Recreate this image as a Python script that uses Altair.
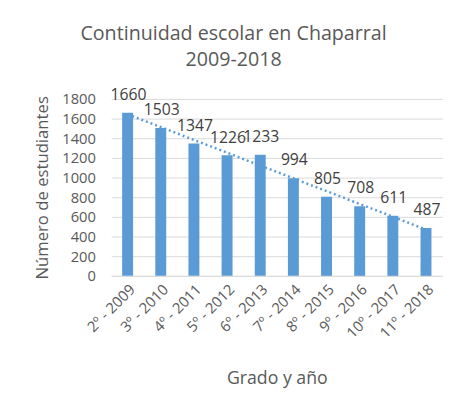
import altair as alt
import pandas as pd

categories = ["2º - 2009", "3º - 2010", "4º - 2011", "5º - 2012", "6º - 2013",
              "7º - 2014", "8º - 2015", "9º - 2016", "10º - 2017", "11º - 2018"]
values = [1660, 1503, 1347, 1226, 1233, 994, 805, 708, 611, 487]
index = list(range(1, 11))
y_ticks = [0, 200, 400, 600, 800, 1000, 1200, 1400, 1600, 1800]

df = pd.DataFrame({"cat": categories, "val": values, "idx": index})

FONT = "Open Sans"
GRAY = "#595959"
BLUE = "#5B9BD5"

cat_list = "[" + ",".join("'" + c + "'" for c in categories) + "]"

x = alt.X("cat:N", sort=categories,
          scale=alt.Scale(paddingInner=0.67, paddingOuter=0.33),
          axis=alt.Axis(title="Grado y año", labelAngle=-45, labelAlign="right",
                        labelBaseline="top", labelFontSize=15, labelColor=GRAY,
                        titleFontSize=18, titleColor=GRAY, titleFontWeight="normal",
                        titlePadding=30, ticks=False, domainColor="#D9D9D9",
                        labelPadding=6, titleFont=FONT, labelFont=FONT))
y = alt.Y("val:Q", scale=alt.Scale(domain=[0, 1800], nice=False),
          axis=alt.Axis(title="Número de estudiantes", values=y_ticks,
                        format="d", labelOverlap=False, labelBound=False,
                        labelFontSize=15, labelColor=GRAY, titleFontSize=17,
                        titleColor=GRAY, titleFontWeight="normal", ticks=False,
                        domain=False, gridColor="#D9D9D9", labelPadding=16,
                        titlePadding=11, titleFont=FONT, labelFont=FONT))

bars = alt.Chart(df).mark_bar(color=BLUE).encode(x=x, y=y)

labels = alt.Chart(df).mark_text(baseline="bottom", dy=-10, dx=1, fontSize=16,
                                 color="#404040", font=FONT).encode(
    x=x, y=y, text="val:Q")

trend = alt.Chart(df).transform_regression("idx", "val").transform_calculate(
    cat=cat_list + "[datum.idx - 1]"
).mark_line(color=BLUE, strokeDash=[2, 3], strokeWidth=2.5).encode(x=x, y=y)

chart = alt.layer(bars, trend, labels).properties(
    width=337, height=180,
    autosize=alt.AutoSizeParams(type="none"),
    padding={"left": 105, "top": 89, "right": 24, "bottom": 134},
    title=alt.Title(["Continuidad escolar en Chaparral", "2009-2018"],
                    fontSize=20, font=FONT, color=GRAY, fontWeight="normal",
                    dx=-44, offset=17, lineHeight=27, anchor="middle",
                    frame="group"),
).configure_view(stroke=None)

chart.save("out.html", embed_options={"renderer": "svg", "actions": False})
